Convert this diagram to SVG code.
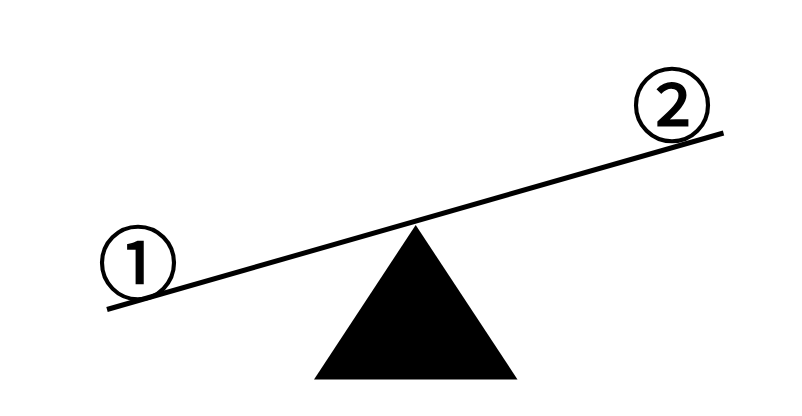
<svg xmlns="http://www.w3.org/2000/svg" width="802" height="416" viewBox="0 0 802 416">
<style>
.lbl{font-family:"DejaVu Serif","Noto Sans CJK JP",serif;font-size:80px;fill:#000;stroke:#000;stroke-width:1.6;text-anchor:middle;dominant-baseline:central}
</style>
<rect width="802" height="416" fill="#fff"/>
<g id="fulcrum"><polygon points="415.7,225 314,379.5 517.5,379.5" fill="#000"/></g>
<g id="beam"><line x1="107" y1="309.5" x2="723.5" y2="133" stroke="#000" stroke-width="5"/></g>
<g id="label1"><text class="lbl" x="138" y="265">①</text></g>
<g id="label2"><text class="lbl" x="672" y="107">②</text></g>
</svg>
